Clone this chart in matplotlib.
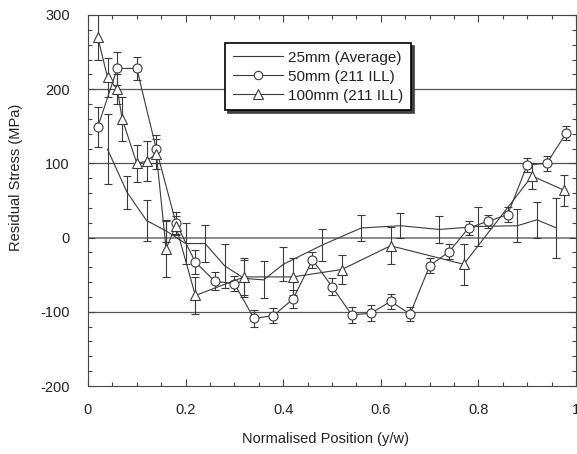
import matplotlib
matplotlib.use("Agg")
import matplotlib.pyplot as plt
from matplotlib.lines import Line2D
from matplotlib.ticker import MultipleLocator, FixedLocator

plt.rcParams['font.family'] = ['Liberation Sans', 'DejaVu Sans']
plt.rcParams['axes.unicode_minus'] = False

# 25mm (Average)
x25 = [0.04, 0.08, 0.12, 0.16, 0.20, 0.24, 0.28, 0.32, 0.36, 0.40,
       0.48, 0.56, 0.64, 0.72, 0.80, 0.88, 0.92, 0.96]
y25 = [119, 61, 23, 9, -8, -8, -38, -55, -57, -36,
       -10, 13, 16, 11, 15, 16, 24, 13]
e25 = [47, 22, 28, 15, 28, 25, 30, 25, 25, 23,
       22, 18, 17, 18, 26, 22, 24, 41]

# 50mm (211 ILL)
x50 = [0.02, 0.06, 0.10, 0.14, 0.18, 0.22, 0.26, 0.30, 0.34, 0.38, 0.42, 0.46,
       0.50, 0.54, 0.58, 0.62, 0.66, 0.70, 0.74, 0.78, 0.82, 0.86, 0.90, 0.94, 0.98]
y50 = [149, 228, 228, 119, 20, -33, -59, -62, -109, -105, -83, -30,
       -66, -104, -102, -86, -103, -38, -19, 13, 22, 31, 98, 100, 141]
e50 = [27, 22, 16, 19, 15, 16, 12, 10, 11, 10, 12, 11,
       12, 11, 11, 10, 9, 10, 10, 10, 9, 10, 9, 10, 10]

# 100mm (211 ILL)
x100 = [0.02, 0.04, 0.06, 0.07, 0.10, 0.12, 0.14, 0.16, 0.18, 0.22,
        0.32, 0.42, 0.52, 0.62, 0.77, 0.91, 0.975]
y100 = [270, 216, 200, 160, 100, 103, 113, -15, 16, -78,
        -53, -53, -43, -11, -36, 83, 64]
e100 = [31, 26, 20, 30, 25, 27, 20, 38, 13, 25,
        25, 25, 20, 25, 28, 18, 21]

labels = ['25mm (Average)', '50mm (211 ILL)', '100mm (211 ILL)']
xticks = [0, 0.2, 0.4, 0.6, 0.8, 1.0]
xticklabels = ['0', '0.2', '0.4', '0.6', '0.8', '1']
grid_y = [200, 100, 0, -100]

ink = '#3a3a3a'

fig = plt.figure(figsize=(5.77, 4.54), dpi=100)
ax = fig.add_axes([88 / 577, 1 - 386 / 454, 488 / 577, 371 / 454])

for g in grid_y:
    ax.axhline(g, color='#555555' if g else '#8a8a8a', lw=0.9 if g else 1.4, zorder=1)

common = dict(color=ink, lw=0.8, elinewidth=0.8, capsize=3.2, capthick=0.8,
              mfc='white', mec=ink, mew=0.8, zorder=3)
ax.errorbar(x25, y25, yerr=e25, fmt='-', **common)
ax.errorbar(x50, y50, yerr=e50, fmt='-o', ms=6.5, **common)
ax.errorbar(x100, y100, yerr=e100, fmt='-^', ms=7, **common)

ax.set_xlim(0, 1)
ax.set_ylim(-200, 300)
ax.xaxis.set_major_locator(FixedLocator(xticks))
ax.set_xticklabels(xticklabels)
ax.xaxis.set_minor_locator(MultipleLocator(0.05))
ax.yaxis.set_major_locator(MultipleLocator(100))
ax.yaxis.set_minor_locator(MultipleLocator(20))
ax.tick_params(which='both', direction='in', top=True, right=True,
               color='#444444', width=0.8, labelsize=10.5, labelcolor='#222222')
ax.tick_params(which='major', length=5, pad=12)
ax.tick_params(which='minor', length=2.8)
ax.tick_params(axis='y', which='major', pad=13)
for s in ax.spines.values():
    s.set_color('#444444')
    s.set_linewidth(0.8)

ax.set_xlabel('Normalised Position (y/w)', fontsize=10.5, color='#222222')
ax.set_ylabel('Residual Stress (MPa)', fontsize=10.5, color='#222222')
ax.xaxis.set_label_coords(0.486, -0.125)
ax.yaxis.set_label_coords(-0.133, 0.563)

handles = [
    Line2D([], [], color=ink, lw=0.8),
    Line2D([], [], color=ink, lw=0.8, marker='o', ms=6, mfc='white', mec=ink, mew=0.8),
    Line2D([], [], color=ink, lw=0.8, marker='^', ms=6.5, mfc='white', mec=ink, mew=0.8),
]
leg = ax.legend(handles, labels, loc='upper left',
                bbox_to_anchor=(225 / 577, 1 - 43 / 454),
                bbox_transform=fig.transFigure, borderaxespad=0, fancybox=False,
                shadow={'color': '0.25', 'alpha': 1}, framealpha=1,
                edgecolor='black', fontsize=11, handlelength=3.3,
                handletextpad=0.35, labelspacing=0.33, borderpad=0.5)
leg.get_frame().set_linewidth(1.2)
for t in leg.get_texts():
    t.set_color('#222222')

fig.savefig('out.png', dpi=100)
